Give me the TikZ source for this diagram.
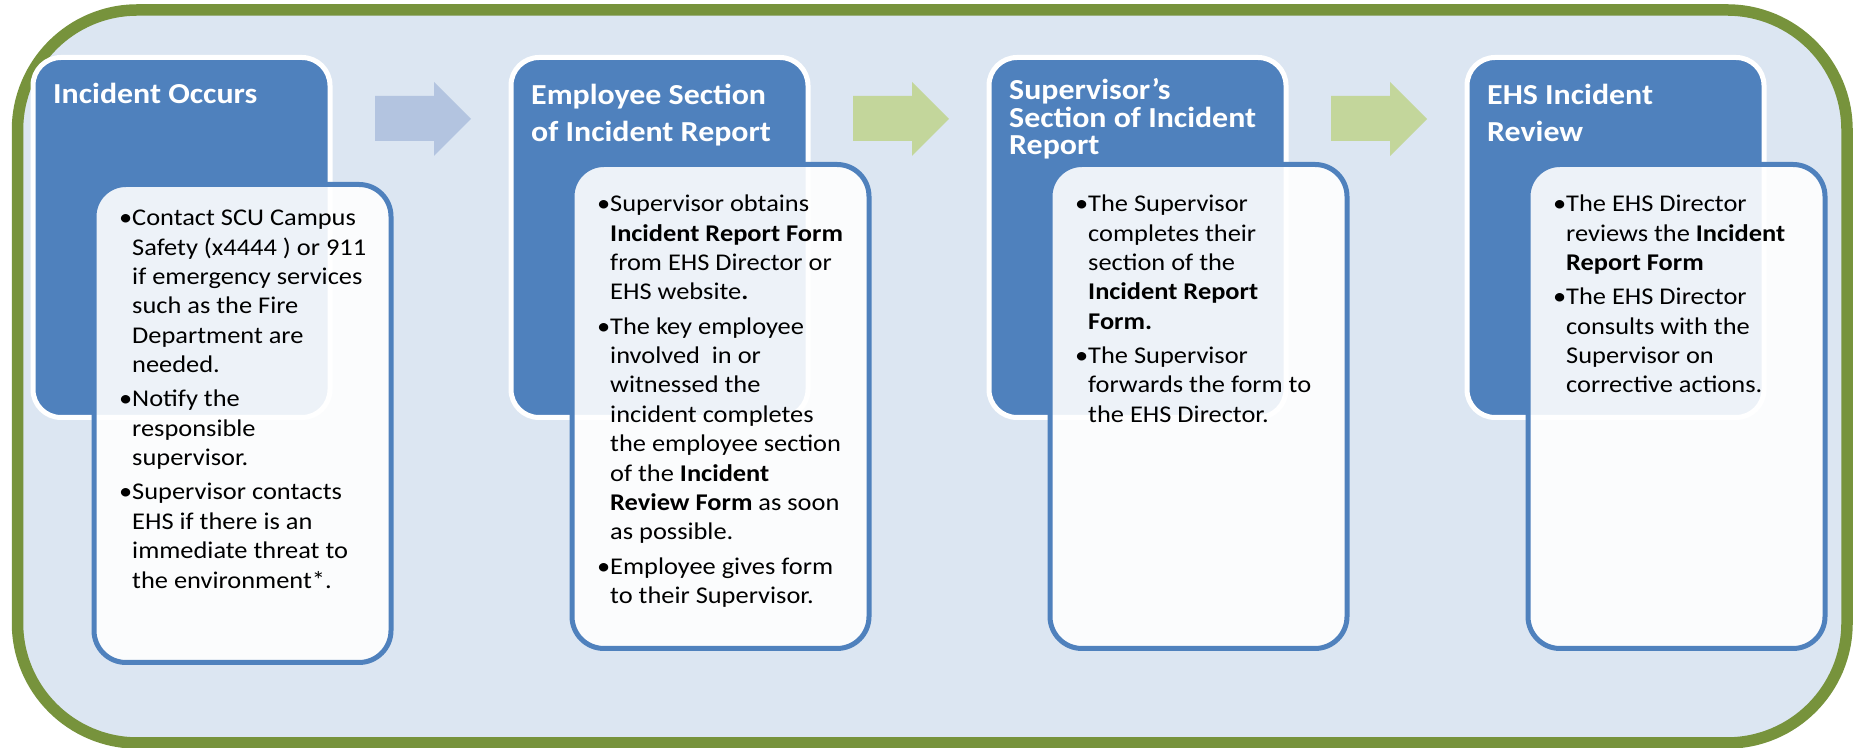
\documentclass[tikz,border=0pt]{standalone}
\usepackage{fontspec}
\setmainfont{Carlito}[FakeStretch=1.1]
\usetikzlibrary{positioning}
\definecolor{framegreen}{RGB}{119,147,60}
\definecolor{paleblue}{RGB}{220,230,242}
\definecolor{headblue}{RGB}{79,129,189}
\definecolor{arrowblue}{RGB}{179,196,224}
\definecolor{arrowgreen}{RGB}{195,214,155}
\tikzset{
    stephead/.style={
        rectangle,
        rounded corners=0.28cm,
        fill=headblue,
        draw=white,
        line width=0.05cm,
        minimum width=2.97cm,
        minimum height=3.6cm,
        inner sep=0
    },
    stepbody/.style={
        rectangle,
        rounded corners=0.32cm,
        fill=white,
        fill opacity=0.9,
        draw=headblue,
        line width=0.05cm,
        minimum width=2.97cm,
        minimum height=#1,
        inner sep=0
    },
    stepbody/.default=4.84cm,
    headtext/.style={
        anchor=north west,
        inner sep=0,
        align=left,
        text=white,
        font=\fontsize{8.25}{10.5}\selectfont\bfseries
    },
    bodytext/.style={
        anchor=north west,
        inner sep=0,
        align=left,
        font=\fontsize{6.83}{8.36}\selectfont
    }
}
\begin{document}
\begin{tikzpicture}
    \useasboundingbox (0,0) rectangle (18.53,7.48);

    % outer frame
    \draw[framegreen, line width=0.115cm, fill=paleblue, rounded corners=1.2cm]
        (0.175,0.05) rectangle (18.47,7.38);

    % arrows between the steps
    \foreach \x/\c in {3.75/arrowblue, 8.53/arrowgreen, 13.31/arrowgreen} {
        \fill[\c] (\x,6.07) -- ++(0.59,0) -- ++(0,-0.15) -- ++(0.37,0.37)
            -- ++(-0.37,0.37) -- ++(0,-0.14) -- (\x,6.52) -- cycle;
    }

    % step headers
    \node[stephead] (incident) at (1.815,5.105) {};
    \node[stephead] (employee) at (6.595,5.105) {};
    \node[stephead] (supervisor) at (11.375,5.105) {};
    \node[stephead] (review) at (16.155,5.105) {};

    % step bodies
    \node[stepbody=4.78cm] (incidentBody) at (2.425,3.245) {};
    \node[stepbody] (employeeBody) at (7.205,3.415) {};
    \node[stepbody] (supervisorBody) at (11.985,3.415) {};
    \node[stepbody] (reviewBody) at (16.765,3.415) {};

    % titles (the rule fixes the top of the first line)
    \node[headtext] (incidentTitle) at ([xshift=0.22cm,yshift=-0.18cm]incident.north west)
        {\rule{0pt}{0.3cm}Incident Occurs};
    \node[headtext] (employeeTitle) at ([xshift=0.22cm,yshift=-0.19cm]employee.north west)
        {\rule{0pt}{0.3cm}Employee Section\\of Incident Report};
    \node[headtext, font=\fontsize{8.25}{7.8}\selectfont\bfseries] (supervisorTitle)
        at ([xshift=0.22cm,yshift=-0.14cm]supervisor.north west)
        {\rule{0pt}{0.3cm}Supervisor’s\\Section of Incident\\Report};
    \node[headtext] (reviewTitle) at ([xshift=0.22cm,yshift=-0.19cm]review.north west)
        {\rule{0pt}{0.3cm}EHS Incident\\Review};

    % bullet items
    \node[bodytext] (incidentItems) at ([xshift=0.40cm,yshift=-0.18cm]incidentBody.north west)
        {\rule{0pt}{0.25cm}\llap{•}Contact SCU Campus\\Safety (x4444 ) or 911\\if emergency services\\
         such as the Fire\\Department are\\needed.\\[1.4pt]
         \llap{•}Notify the\\responsible\\supervisor.\\[1.4pt]
         \llap{•}Supervisor contacts\\EHS if there is an\\immediate threat to\\
         the environment*.};
    \node[bodytext] (employeeItems) at ([xshift=0.40cm,yshift=-0.24cm]employeeBody.north west)
        {\rule{0pt}{0.25cm}\llap{•}Supervisor obtains\\\textbf{Incident Report Form}\\from EHS Director or\\
         EHS website\textbf{.}\\[1.4pt]
         \llap{•}The key employee\\involved\ \ in or\\witnessed the\\incident completes\\
         the employee section\\of the \textbf{Incident}\\\textbf{Review Form} as soon\\
         as possible.\\[1.4pt]
         \llap{•}Employee gives form\\to their Supervisor.};
    \node[bodytext] (supervisorItems) at ([xshift=0.40cm,yshift=-0.24cm]supervisorBody.north west)
        {\rule{0pt}{0.25cm}\llap{•}The Supervisor\\completes their\\section of the\\
         \textbf{Incident Report}\\\textbf{Form.}\\[1.4pt]
         \llap{•}The Supervisor\\forwards the form to\\the EHS Director.};
    \node[bodytext] (reviewItems) at ([xshift=0.40cm,yshift=-0.24cm]reviewBody.north west)
        {\rule{0pt}{0.25cm}\llap{•}The EHS Director\\reviews the \textbf{Incident}\\\textbf{Report Form}\\[1.4pt]
         \llap{•}The EHS Director\\consults with the\\Supervisor on\\corrective actions.};
\end{tikzpicture}
\end{document}
